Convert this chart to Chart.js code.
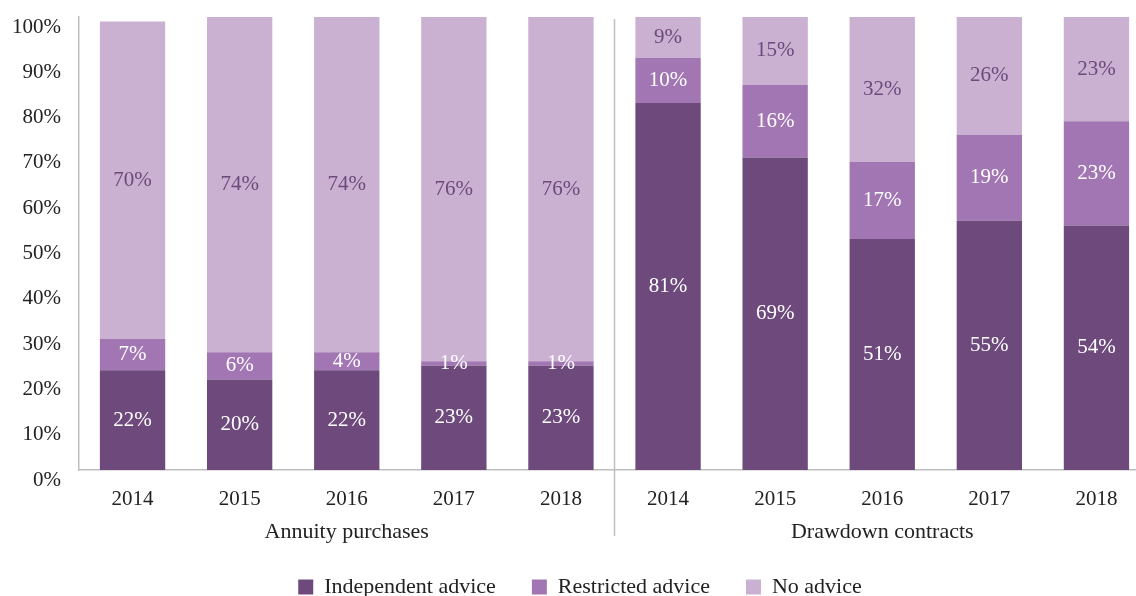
<!DOCTYPE html>
<html>
<head>
<meta charset="utf-8">
<script src="https://cdn.jsdelivr.net/npm/chart.js@4/dist/chart.umd.min.js"></script>
<style>
  html, body { margin: 0; padding: 0; background: #fff; overflow: hidden; }
  #wrap { position: relative; width: 1150px; height: 596px; }
</style>
</head>
<body>
<div id="wrap"><canvas id="bars"></canvas></div>
<script>
const years = ['2014', '2015', '2016', '2017', '2018', '2014', '2015', '2016', '2017', '2018'];
const groups = ['Annuity purchases', 'Drawdown contracts'];
const groupSize = 5;
const independent = [22, 20, 22, 23, 23, 81, 69, 51, 55, 54];
const restricted = [7, 6, 4, 1, 1, 10, 16, 17, 19, 23];
const noAdvice = [70, 74, 74, 76, 76, 9, 15, 32, 26, 23];
const yTicks = [0, 10, 20, 30, 40, 50, 60, 70, 80, 90, 100];

const FONT = '"Liberation Serif", "DejaVu Serif", serif';
const DARK = '#6d4a7b';
const MID = '#a276b2';
const LIGHT = '#cab0d1';
const RULE = '#bfbfbf';

// percent labels in the middle of each segment
const segmentLabels = {
  id: 'segmentLabels',
  afterDatasetsDraw(chart) {
    const ctx = chart.ctx;
    ctx.save();
    ctx.font = '21px ' + FONT;
    ctx.textAlign = 'center';
    ctx.textBaseline = 'middle';
    chart.data.datasets.forEach((ds, i) => {
      const meta = chart.getDatasetMeta(i);
      meta.data.forEach((bar, j) => {
        const v = ds.data[j];
        const light = i === 2 && v >= 5;
        ctx.fillStyle = light ? DARK : '#ffffff';
        ctx.fillText(v + '%', bar.x, (bar.y + bar.base) / 2);
      });
    });
    ctx.restore();
  }
};

// group names under the years and the rule between the groups
const groupAxis = {
  id: 'groupAxis',
  afterDraw(chart) {
    const x = chart.scales.x;
    const area = chart.chartArea;
    const ctx = chart.ctx;
    ctx.save();
    ctx.font = '22px ' + FONT;
    ctx.fillStyle = '#222';
    ctx.textAlign = 'center';
    ctx.textBaseline = 'middle';
    groups.forEach((name, g) => {
      const first = x.getPixelForValue(g * groupSize);
      const last = x.getPixelForValue(g * groupSize + groupSize - 1);
      ctx.fillText(name, (first + last) / 2, area.bottom + 62);
    });
    for (let g = 1; g < groups.length; g++) {
      const px = (x.getPixelForValue(g * groupSize - 1) + x.getPixelForValue(g * groupSize)) / 2;
      ctx.strokeStyle = RULE;
      ctx.lineWidth = 1.5;
      ctx.beginPath();
      ctx.moveTo(px, area.top + 2);
      ctx.lineTo(px, area.bottom + 66);
      ctx.stroke();
    }
    ctx.restore();
  }
};

new Chart(document.getElementById('bars'), {
  type: 'bar',
  data: {
    labels: years,
    datasets: [
      { label: 'Independent advice', data: independent, backgroundColor: DARK },
      { label: 'Restricted advice', data: restricted, backgroundColor: MID },
      { label: 'No advice', data: noAdvice, backgroundColor: LIGHT }
    ]
  },
  options: {
    responsive: true,
    maintainAspectRatio: false,
    animation: false,
    layout: { padding: { top: 17, left: 10, right: 0, bottom: -12 } },
    datasets: { bar: { barPercentage: 0.61, categoryPercentage: 1 } },
    scales: {
      x: {
        stacked: true,
        afterFit(axis) { axis.height = 70; },
        grid: { display: false, drawTicks: false },
        border: { display: true, color: RULE, width: 1.5 },
        ticks: { color: '#222', font: { family: FONT, size: 21 }, padding: 17, maxRotation: 0, autoSkip: false }
      },
      y: {
        stacked: true,
        min: 0,
        max: 100,
        afterBuildTicks(axis) { axis.ticks = yTicks.map(v => ({ value: v })); },
        afterFit(axis) { axis.width = 69; axis.paddingTop = 0; axis.paddingBottom = 0; },
        grid: { display: false, drawTicks: false },
        border: { display: true, color: RULE, width: 1.5 },
        ticks: { color: '#222', font: { family: FONT, size: 21 }, padding: 18, labelOffset: 10, callback: v => v + '%' }
      }
    },
    plugins: {
      legend: {
        position: 'bottom',
        labels: {
          color: '#222',
          font: { family: FONT, size: 22 },
          boxWidth: 15,
          boxHeight: 15,
          padding: 36
        }
      },
      tooltip: { enabled: false }
    }
  },
  plugins: [segmentLabels, groupAxis]
});
</script>
</body>
</html>
